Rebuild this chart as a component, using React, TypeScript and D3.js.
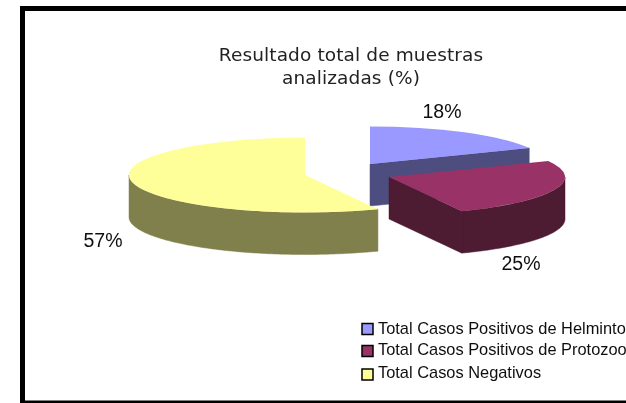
import React from 'react'
import * as d3 from 'd3'

const categories = ['Total Casos Positivos de Helmintos', 'Total Casos Positivos de Protozoos', 'Total Casos Negativos']
const values = [18, 25.2, 56.8]
const topColors = ['#9999ff', '#993366', '#ffff99']
const sideColors = ['#4d4d80', '#4d1a33', '#80804d']
const titleLines = ['Resultado total de muestras', 'analizadas (%)']

// where each exploded slice sits
const apexes = [[370, 164], [389, 177], [305, 175]]
const labelPos = [[442, 118], [521, 270], [103, 247]]
const legendTextY = [334, 355, 378]
const legendBoxY = [323.5, 345.5, 369]

const rx = 176
const ry = 37.5
const depth = 42

const pie = d3.pie<number>().sort(null)
const arc = d3.arc<d3.PieArcDatum<number>>().innerRadius(0).outerRadius(rx)

// point on the flattened rim, a = 0 at the top going clockwise
const rim = (a: number): [number, number] => [rx * Math.sin(a), -ry * Math.cos(a)]

// side wall of the rim between two angles
function rimWall(a0: number, a1: number) {
  if (a1 <= a0) return null
  const angles = d3.range(a0, a1, 0.02).concat(a1)
  const top = angles.map(rim)
  const bottom = top.map(p => [p[0], p[1] + depth] as [number, number]).reverse()
  return d3.line()(top.concat(bottom)) + 'Z'
}

// side wall of a cut edge, from the apex out to the rim
function radialWall(a: number) {
  const p = rim(a)
  const path = d3.path()
  path.moveTo(0, 0)
  path.lineTo(p[0], p[1])
  path.lineTo(p[0], p[1] + depth)
  path.lineTo(0, depth)
  path.closePath()
  return path.toString()
}

const Slice = ({ d, i }: { d: d3.PieArcDatum<number>; i: number }) => {
  const front0 = Math.max(d.startAngle, Math.PI / 2)
  const front1 = Math.min(d.endAngle, (3 * Math.PI) / 2)
  const wall = rimWall(front0, front1)
  // only a cut edge that faces the viewer shows its wall
  const showEnd = d.endAngle < Math.PI
  return (
    <g transform={`translate(${apexes[i][0]},${apexes[i][1]})`}>
      {showEnd && <path d={radialWall(d.endAngle)} fill={sideColors[i]} stroke={sideColors[i]} strokeWidth={0.5} />}
      {wall && <path d={wall} fill={sideColors[i]} stroke={sideColors[i]} strokeWidth={0.5} />}
      <path d={arc(d) as string} fill={topColors[i]} transform={`scale(1,${ry / rx})`} />
    </g>
  )
}

export default function App() {
  const slices = pie(values)
  const drawOrder = [0, 2, 1]
  return (
    <svg width={626} height={403} style={{ position: 'absolute', left: 0, top: 0, background: '#fff' }}>
      <defs>
        <filter id="soft" filterUnits="userSpaceOnUse" x={0} y={0} width={626} height={403}>
          <feGaussianBlur stdDeviation={0.45} />
        </filter>
      </defs>
      <g filter="url(#soft)">
        <rect x={22.5} y={8.5} width={700} height={394.5} fill="none" stroke="#000" strokeWidth={5} />
        <g fontFamily="'DejaVu Sans'" fontSize={18.5} fill="#222" textAnchor="middle" letterSpacing={0.12}>
          {titleLines.map((t, i) => (
            <text key={t} x={351} y={61 + i * 23}>{t}</text>
          ))}
        </g>
        {drawOrder.map(i => <Slice key={i} d={slices[i]} i={i} />)}
        <g fontFamily="'Liberation Sans'" fontSize={19.5} fill="#111" textAnchor="middle">
          {values.map((v, i) => (
            <text key={i} x={labelPos[i][0]} y={labelPos[i][1]}>{Math.round(v)}%</text>
          ))}
        </g>
        <g fontFamily="'Liberation Sans'" fontSize={16.4} fill="#111">
          {categories.map((c, i) => (
            <g key={c}>
              <rect x={362} y={legendBoxY[i]} width={11} height={11} fill={topColors[i]} stroke="#000" strokeWidth={1.5} />
              <text x={378} y={legendTextY[i]}>{c}</text>
            </g>
          ))}
        </g>
      </g>
    </svg>
  )
}
